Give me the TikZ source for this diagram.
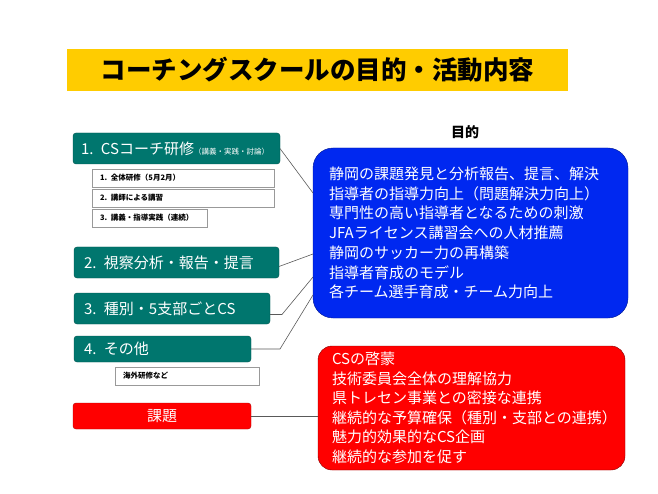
\documentclass[tikz,border=0pt]{standalone}
\usepackage{fontspec}
\setmainfont{Noto Sans CJK JP}
\usepackage{xcolor}
\usepackage{tikz}
\definecolor{tealbox}{RGB}{0,118,110}
\definecolor{goalblue}{RGB}{0,40,240}
\definecolor{issuered}{RGB}{255,0,0}
\definecolor{titlebar}{RGB}{255,204,0}

\begin{document}
\begin{tikzpicture}[x=1pt, y=-1pt,
    every node/.style={inner sep=0pt, outer sep=0pt},
    stage/.style={fill=tealbox, draw=tealbox!70!black, rounded corners=3pt,
      anchor=north west, minimum height=31pt, text=white, inner xsep=10pt,
      text width=#1, align=left, font=\fontsize{15}{18}\selectfont},
    detail/.style={draw=gray!80, fill=white, anchor=north west,
      minimum height=18pt, inner xsep=8pt, text width=#1, align=left,
      font=\bfseries\fontsize{7.5}{10}\selectfont},
    link/.style={draw=black!65, line width=0.6pt}]
    \useasboundingbox (0,0) rectangle (658,494);
    % title
    \node[fill=titlebar, anchor=north west, minimum width=501pt, minimum height=42pt,
      font=\bfseries\fontsize{25.5}{30}\selectfont] (title) at (67,49)
      {コーチングスクールの目的・活動内容};
    % activities
    \node[stage=191pt, inner xsep=8pt] (c1) at (73,133)
      {\mbox{1. CSコーチ研修{\fontsize{7.5}{10}\selectfont（講義・実践・討論）}}};
    \node[detail=166pt] (s1) at (92,169) {\mbox{1. 全体研修（5月2月）}};
    \node[detail=166pt] (s2) at (92,189) {\mbox{2. 講師による講習}};
    \node[detail=99pt]  (s3) at (92,209) {\mbox{3. 講義・指導実践（連続）}};
    \node[stage=185pt] (c2) at (74,247) {2. 視察分析・報告・提言};
    \node[stage=176pt] (c3) at (74,293) {3. 種別・5支部ごとCS};
    \node[stage=157pt, minimum height=26pt] (c4) at (74,336) {4. その他};
    \node[detail=128pt] (s4) at (115,367) {海外研修など};
    \node[fill=issuered, draw=issuered!70!black, rounded corners=3pt, anchor=north west,
      minimum width=178pt, minimum height=26pt, text=white,
      font=\fontsize{15}{18}\selectfont] (kadai) at (73,403) {課題};
    % goals
    \node[font=\bfseries\fontsize{14}{16}\selectfont] (goallabel) at (465,132) {目的};
    \node[fill=goalblue, draw=goalblue!60!black, rounded corners=20pt, anchor=north west,
      minimum height=170pt, inner xsep=16pt, text width=283pt, align=left, text=white,
      font=\fontsize{15}{19.7}\selectfont] (goal) at (313,148)
      {静岡の課題発見と分析報告、提言、解決\\
       指導者の指導力向上（問題解決力向上）\\
       専門性の高い指導者となるための刺激\\
       JFAライセンス講習会への人材推薦\\
       静岡のサッカー力の再構築\\
       指導者育成のモデル\\
       各チーム選手育成・チーム力向上};
    \node[fill=issuered, draw=issuered!50!black, rounded corners=14pt, anchor=north west,
      minimum height=124pt, inner xsep=14pt, text width=279pt, align=left, text=white,
      font=\fontsize{15}{19.5}\selectfont] (issue) at (318,346)
      {CSの啓蒙\\
       技術委員会全体の理解協力\\
       県トレセン事業との密接な連携\\
       継続的な予算確保（種別・支部との連携）\\
       魅力的効果的なCS企画\\
       継続的な参加を促す};
    % connectors
    \draw[link] (c1.east) -- (goal.west |- 0,193);
    \draw[link] ([yshift=-4pt]c2.east) -- (goal.west |- 0,254);
    \draw[link] ([yshift=-6pt]c3.east) -- ++(12,0) -- (goal.west |- 0,277);
    \draw[link] (c4.east) -- ++(29,0) -- (goal.west |- 0,295);
    \draw[link] (kadai.east) -- (issue.west |- kadai.east);
\end{tikzpicture}
\end{document}
